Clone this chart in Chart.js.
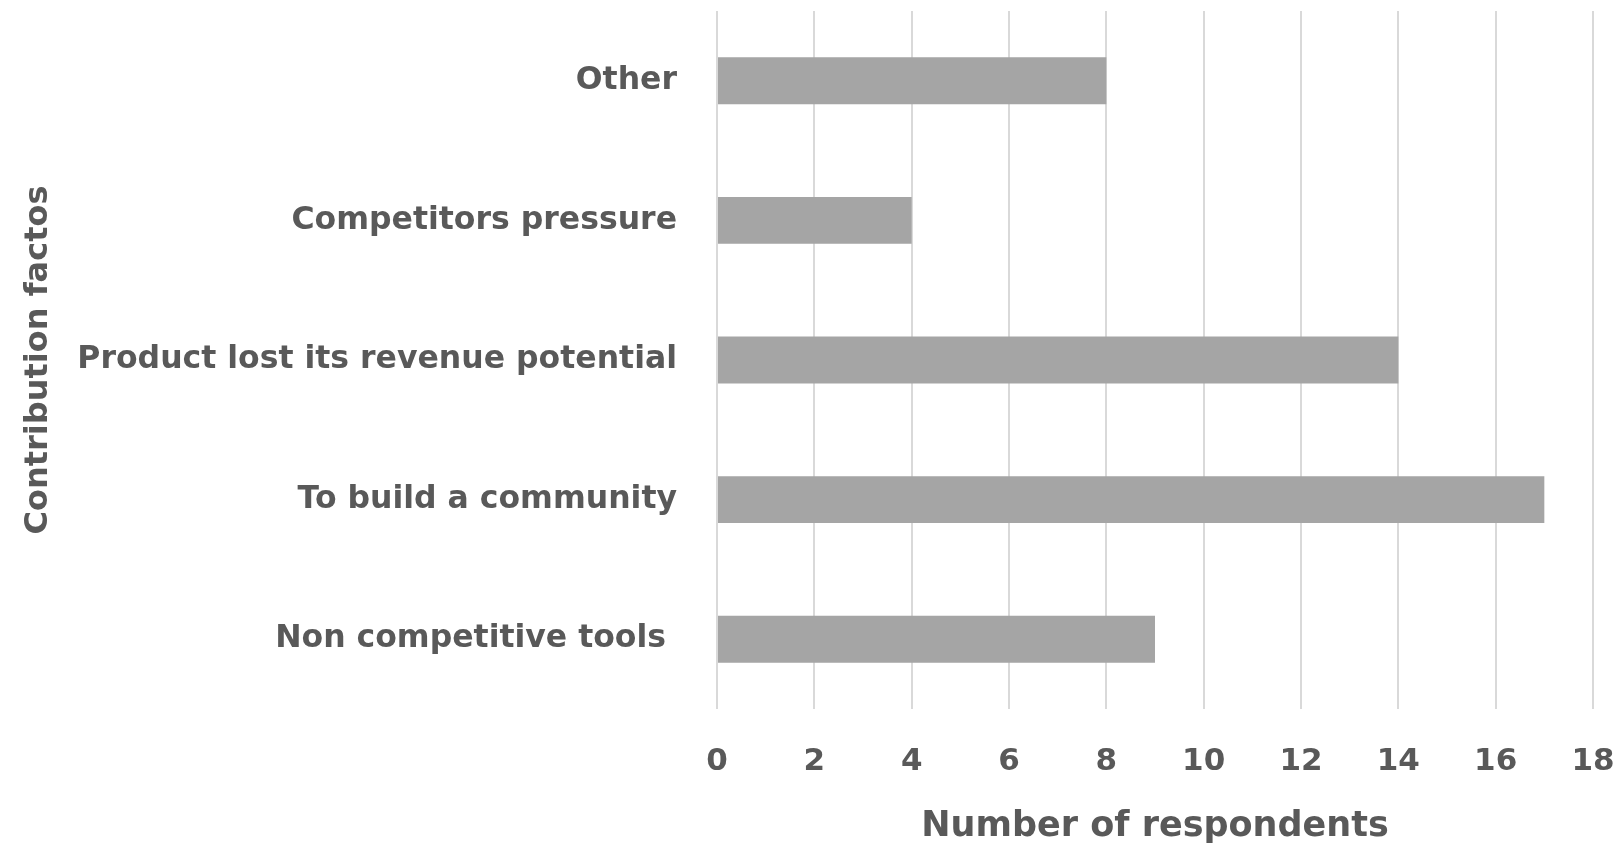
<!DOCTYPE html>
<html>
<head>
<meta charset="utf-8">
<script src="https://cdn.jsdelivr.net/npm/chart.js@4/dist/chart.umd.min.js"></script>
<style>
  html, body { margin: 0; padding: 0; background: #ffffff; }
  #wrap { width: 1621px; height: 845px; }
</style>
</head>
<body>
<div id="wrap"><canvas id="chart" width="1621" height="845"></canvas></div>
<script>
// Survey answers: why the product was contributed
const factors = [
  'Other',
  'Competitors pressure',
  'Product lost its revenue potential',
  'To build a community',
  'Non competitive tools '
];
const respondents = [8, 4, 14, 17, 9];

const xAxisTitle = 'Number of respondents';
const yAxisTitle = 'Contribution factos';
const xMin = 0, xMax = 18, xStep = 2;

const textColor = '#595959';
const fontFamily = '"DejaVu Sans", sans-serif';

new Chart(document.getElementById('chart'), {
  type: 'bar',
  data: {
    labels: factors,
    datasets: [{
      data: respondents,
      backgroundColor: '#A5A5A5',
      borderWidth: 0,
      barPercentage: 0.336,
      categoryPercentage: 1
    }]
  },
  options: {
    indexAxis: 'y',
    responsive: false,
    animation: false,
    layout: { padding: { top: 11, right: 28, bottom: 0, left: 0 } },
    plugins: { legend: { display: false }, tooltip: { enabled: false } },
    scales: {
      x: {
        min: xMin,
        max: xMax,
        grid: { color: '#D9D9D9', lineWidth: 2, drawTicks: false },
        border: { display: false },
        ticks: {
          stepSize: xStep,
          padding: 34,
          color: textColor,
          font: { family: fontFamily, size: 31, weight: 'bold' }
        },
        title: {
          display: true,
          text: xAxisTitle,
          color: textColor,
          font: { family: fontFamily, size: 35, weight: 'bold', lineHeight: 1 },
          padding: { top: 0, bottom: 1 }
        },
        afterFit: (scale) => {
          scale.height = 136;
          scale.paddingLeft = 0;
          scale.paddingRight = 0;
        }
      },
      y: {
        grid: { display: false, drawTicks: false },
        border: { display: false },
        ticks: {
          padding: 40,
          color: textColor,
          font: { family: fontFamily, size: 31.5, weight: 'bold' }
        },
        title: {
          display: true,
          text: yAxisTitle,
          color: textColor,
          font: { family: fontFamily, size: 32, weight: 'bold', lineHeight: 1.2 },
          padding: { top: 19, bottom: 4 }
        },
        afterFit: (scale) => {
          scale.width = 717;
          scale.paddingTop = 0;
          scale.paddingBottom = 0;
        }
      }
    }
  }
});
</script>
</body>
</html>
